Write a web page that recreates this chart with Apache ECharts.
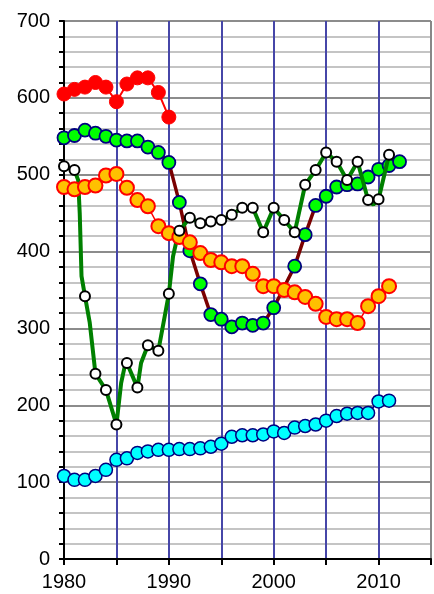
<!DOCTYPE html>
<html>
<head>
<meta charset="utf-8">
<script src="https://cdn.jsdelivr.net/npm/echarts@6/dist/echarts.min.js"></script>
<style>
html,body{margin:0;padding:0;background:#fff;}
#c{width:434px;height:594px;}
</style>
</head>
<body>
<div id="c"></div>
<script>
// ---- data ----
var years = [1980,1981,1982,1983,1984,1985,1986,1987,1988,1989,1990,1991,1992,1993,1994,1995,1996,1997,1998,1999,2000,2001,2002,2003,2004,2005,2006,2007,2008,2009,2010,2011,2012];

var redYears = [1980,1981,1982,1983,1984,1985,1986,1987,1988,1989,1990];
var redValues = [605,611,614,620,614,595,618,626,626,607,575];

var greenValues = [548,551,558,554,550,545,544,544,536,529,516,464,401,358,318,312,302,307,304,307,327,null,381,422,460,472,484,487,488,497,507,512,517];

var whiteValues = [511,506,342,241,220,175,255,223,278,271,345,427,444,437,439,441,448,457,457,425,457,441,425,487,506,529,517,493,517,467,468,526,null];

var orangeValues = [484,481,484,486,499,501,483,467,459,433,424,419,412,398,389,386,381,381,371,355,355,350,347,341,332,315,312,312,307,329,342,355,null];

var cyanValues = [108,103,103,108,116,129,131,138,140,142,142,143,143,144,146,150,159,161,161,162,166,164,171,173,175,180,186,189,190,190,205,206,null];

// finer green trace
var traceYears = [1980,1981,1981.35,1981.5,1981.67,1982,1982.45,1983,1984,1985,1985.45,1985.75,1986,1987,1987.35,1988,1989,1990,1990.4,1990.75,1991,1992,1993,1994,1995,1996,1997,1998,1999,2000,2001,2002,2003,2004,2005,2006,2007,2008,2009,2009.5,2010,2011];
var traceValues = [511,506,493,450,368,342,308,241,220,175,229,248,255,223,255,278,271,345,394,415,427,444,437,439,441,448,457,457,425,457,441,425,487,506,529,517,493,517,467,461,468,526];

var xTickLabels = ['1980','1990','2000','2010'];
var yTickLabels = ['0','100','200','300','400','500','600','700'];

function pairs(xs, vs){ return xs.map(function(x,i){ return [x, vs[i]]; }); }

var chart = echarts.init(document.getElementById('c'), null, {renderer:'canvas'});
var FONT = 'Liberation Sans, Arial, sans-serif';
var blue = '#4646a8';
var option = {
  animation:false,
  backgroundColor:'#ffffff',
  grid:{left:64, top:21, width:370, bottom:35, containLabel:false},
  xAxis:{
    type:'value', min:1980, max:2015, interval:5,
    axisLine:{show:true, onZero:false, lineStyle:{color:'#000', width:2}},
    axisTick:{show:true, length:6, lineStyle:{color:'#000', width:2}},
    axisLabel:{margin:13, fontFamily:FONT, fontSize:20, color:'#000',
      formatter:function(v){ var s=String(v); return xTickLabels.indexOf(s)>=0 ? s : ''; }},
    splitLine:{show:true, lineStyle:{color:['rgba(0,0,0,0)',blue,blue,blue,blue,blue,blue,'#888888'], width:2}}
  },
  yAxis:{
    type:'value', min:0, max:700, interval:20,
    axisLine:{show:true, lineStyle:{color:'#000', width:2}},
    axisTick:{show:true, length:5, lineStyle:{color:'#000', width:2}},
    axisLabel:{margin:14, fontFamily:FONT, fontSize:20, color:'#000',
      formatter:function(v){ var s=String(v); return yTickLabels.indexOf(s)>=0 ? s : ''; }},
    splitLine:{show:true, lineStyle:{color:['#8c8c8c','#c4c4c4','#c4c4c4','#c4c4c4','#c4c4c4'], width:2}}
  },
  series:[
    {type:'line', name:'cyan', data:pairs(years,cyanValues), z:2,
      symbol:'circle', symbolSize:13, showAllSymbol:true,
      lineStyle:{color:'#000080', width:1.5},
      itemStyle:{color:'#00ffff', borderColor:'#000080', borderWidth:1.5}},
    {type:'line', name:'green', data:pairs(years,greenValues), z:3, connectNulls:true,
      symbol:'circle', symbolSize:13, showAllSymbol:true,
      lineStyle:{color:'#7a0000', width:3.5},
      itemStyle:{color:'#00ff00', borderColor:'#000080', borderWidth:1.8}},
    {type:'line', name:'trace', data:pairs(traceYears,traceValues), z:4,
      symbol:'none', lineStyle:{color:'#008000', width:4}},
    {type:'line', name:'orange', data:pairs(years,orangeValues), z:5,
      symbol:'circle', symbolSize:14, showAllSymbol:true,
      lineStyle:{color:'#ff0000', width:1.5},
      itemStyle:{color:'#ffc000', borderColor:'#ff0000', borderWidth:2}},
    {type:'line', name:'red', data:pairs(redYears,redValues), z:6,
      symbol:'circle', symbolSize:14, showAllSymbol:true,
      lineStyle:{color:'#ff0000', width:2},
      itemStyle:{color:'#ff0000', borderColor:'#ff0000', borderWidth:1}},
    {type:'scatter', name:'white', data:pairs(years,whiteValues), z:7,
      symbol:'circle', symbolSize:10,
      itemStyle:{color:'#ffffff', borderColor:'#000000', borderWidth:2, opacity:1}}
  ]
};
chart.setOption(option);
</script>
</body>
</html>
